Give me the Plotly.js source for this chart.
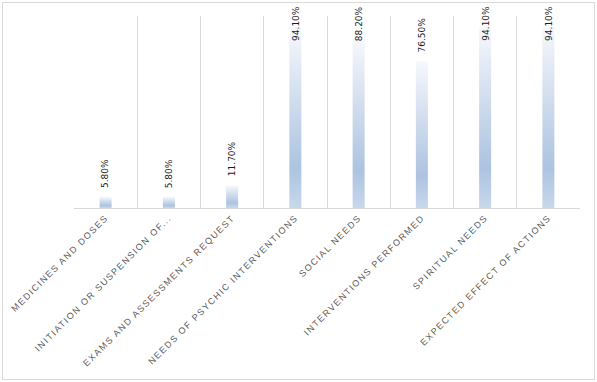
<!DOCTYPE html>
<html>
<head>
<meta charset="utf-8">
<script src="https://cdn.plot.ly/plotly-3.0.1.min.js"></script>
<style>
  html, body { margin: 0; padding: 0; background: #fff; }
  #wrap { position: relative; width: 597px; height: 382px; }
  #frame { position: absolute; left: 2px; top: 2px; width: 591px; height: 376px; border: 1px solid #d9d9d9; pointer-events: none; }
  #chart { position: absolute; left: 0; top: 0; width: 597px; height: 382px; }
  .xtick text { letter-spacing: 1.45px; }
</style>
</head>
<body>
<div id="wrap">
  <div id="chart"></div>
  <div id="frame"></div>
</div>
<script>
// ---- data ----
const categories = [
  "MEDICINES AND DOSES",
  "INITIATION OR SUSPENSION OF...",
  "EXAMS AND ASSESSMENTS REQUEST",
  "NEEDS OF PSYCHIC INTERVENTIONS",
  "SOCIAL NEEDS",
  "INTERVENTIONS PERFORMED",
  "SPIRITUAL NEEDS",
  "EXPECTED EFFECT OF ACTIONS"
];
const values = [5.8, 5.8, 11.7, 94.1, 88.2, 76.5, 94.1, 94.1];
const valueLabels = values.map(v => v.toFixed(2) + "%");

// ---- style constants ----
const LABEL_CLAMP = 83;      // above this, label is pinned to the top of the chart area
const PINNED_TOP = 1.057;    // paper y for pinned label tops

const trace = {
  type: "bar",
  x: categories,
  y: values,
  marker: { color: "#b4c7e2", line: { width: 0 } }
};

const annotations = values.map((v, i) => {
  const pinned = v > LABEL_CLAMP;
  return {
    x: categories[i],
    xref: "x",
    y: pinned ? PINNED_TOP : v,
    yref: pinned ? "paper" : "y",
    yanchor: pinned ? "top" : "bottom",
    yshift: pinned ? 0 : 8,
    text: valueLabels[i],
    textangle: -90,
    showarrow: false,
    font: { family: "DejaVu Sans", size: 9, color: "#1a1a1a" },
    borderpad: 0
  };
});

const layout = {
  width: 597,
  height: 382,
  margin: { l: 74, r: 17, t: 16, b: 174 },
  paper_bgcolor: "rgba(0,0,0,0)",
  plot_bgcolor: "rgba(0,0,0,0)",
  bargap: 0.81,
  showlegend: false,
  xaxis: {
    type: "category",
    tickson: "boundaries",
    showgrid: true,
    gridcolor: "#d9d9d9",
    gridwidth: 1,
    showline: true,
    linecolor: "#d9d9d9",
    linewidth: 1,
    ticks: "",
    tickangle: -45,
    tickfont: { family: "Liberation Sans", size: 9, color: "#595959" }
  },
  yaxis: {
    range: [0, 100],
    showgrid: false,
    zeroline: false,
    showticklabels: false,
    showline: false,
    ticks: ""
  },
  annotations: annotations
};

Plotly.newPlot("chart", [trace], layout, { displayModeBar: false }).then(gd => {
  const svg = gd.querySelector(".main-svg");
  const ns = "http://www.w3.org/2000/svg";
  let defs = svg.querySelector("defs");
  if (!defs) { defs = document.createElementNS(ns, "defs"); svg.insertBefore(defs, svg.firstChild); }
  const grad = document.createElementNS(ns, "linearGradient");
  grad.setAttribute("id", "barGrad");
  grad.setAttribute("x1", "0"); grad.setAttribute("y1", "0");
  grad.setAttribute("x2", "0"); grad.setAttribute("y2", "1");
  [["0", "#f6f8fc"], ["0.78", "#adc3e0"], ["1", "#c8d8ec"]].forEach(([o, c]) => {
    const s = document.createElementNS(ns, "stop");
    s.setAttribute("offset", o);
    s.setAttribute("stop-color", c);
    grad.appendChild(s);
  });
  defs.appendChild(grad);
  gd.querySelectorAll(".trace.bars .point path").forEach(p => {
    p.style.fill = "url(#barGrad)";
  });
});
</script>
</body>
</html>
